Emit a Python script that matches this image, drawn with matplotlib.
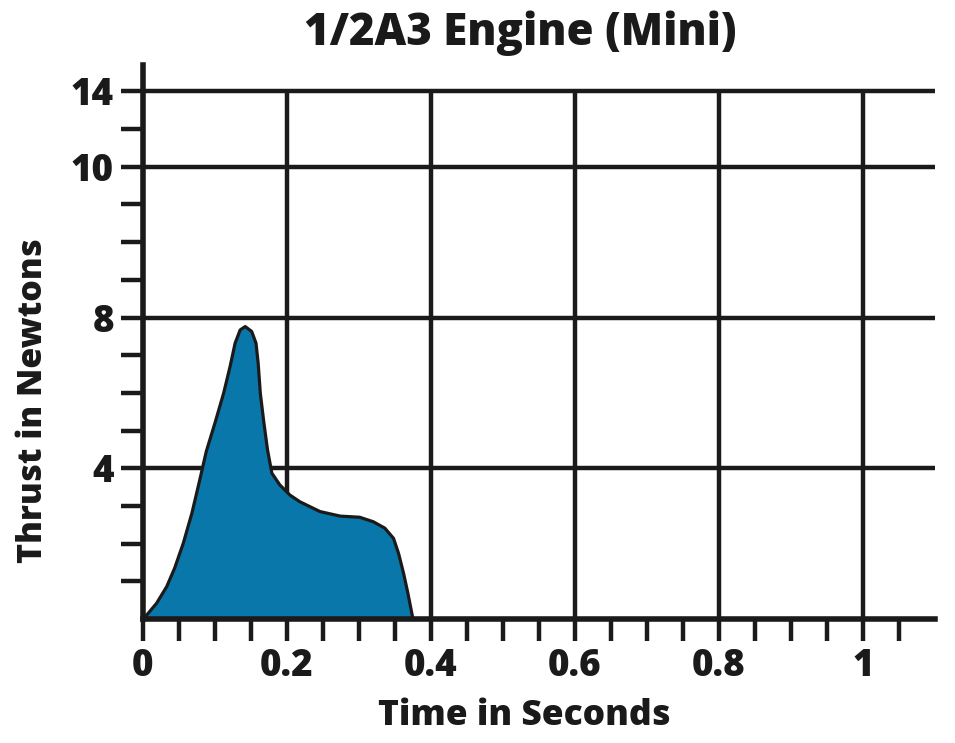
import matplotlib
matplotlib.use("Agg")
import matplotlib.pyplot as plt
import numpy as np

# thrust curve (seconds, position on the thrust axis)
time_s = [0.003, 0.005, 0.019, 0.033, 0.044, 0.056, 0.068, 0.079, 0.088, 0.100,
          0.112, 0.121, 0.128, 0.135, 0.142, 0.151, 0.157, 0.160, 0.163, 0.168,
          0.173, 0.179, 0.190, 0.204, 0.218, 0.246, 0.274, 0.301, 0.320, 0.336,
          0.348, 0.355, 0.362, 0.368, 0.375]
thrust = [0.0, 0.10, 0.42, 0.86, 1.35, 2.01, 2.81, 3.70, 4.45, 5.20,
          5.99, 6.70, 7.32, 7.67, 7.76, 7.63, 7.32, 6.79, 5.99, 5.20,
          4.49, 3.87, 3.56, 3.29, 3.11, 2.85, 2.73, 2.70, 2.58, 2.41,
          2.14, 1.74, 1.21, 0.68, 0.0]

x_ticks = [0, 0.2, 0.4, 0.6, 0.8, 1.0]
x_tick_labels = ["0", "0.2", "0.4", "0.6", "0.8", "1"]
x_minor = np.arange(0.05, 1.1, 0.05)

# the printed axis is not linear above 8: the "10" line sits where 12 would be
y_ticks = [4, 8, 12, 14]
y_tick_labels = ["4", "8", "10", "14"]
y_minor = [1, 2, 3, 5, 6, 7, 9, 10, 11, 13]

title = "1/2A3 Engine (Mini)"
xlabel = "Time in Seconds"
ylabel = "Thrust in Newtons"

plt.rcParams['font.family'] = ['Open Sans', 'DejaVu Sans']
plt.rcParams['font.weight'] = 800

ink = '#1a1a1a'
fill_col = '#0a77aa'

fig = plt.figure(figsize=(9.55, 7.43), dpi=100)
ax = fig.add_axes([0.1497, 0.1669, 0.979 - 0.1497, 0.9125 - 0.1669])

ax.set_xlim(0, 1.1)
ax.set_ylim(0, 14.7)

# grid
for xv in x_ticks[1:]:
    ax.plot([xv, xv], [0, 14], color=ink, lw=3.2, zorder=1, solid_capstyle='butt')
for yv in y_ticks:
    ax.plot([0, 1.1], [yv, yv], color=ink, lw=3.2, zorder=1, solid_capstyle='butt')

ax.fill_between(time_s, thrust, 0, color=fill_col, zorder=2, lw=0)
ax.plot(time_s, thrust, color=ink, lw=2.3, zorder=3, solid_joinstyle='round')

for s in ['top', 'right']:
    ax.spines[s].set_visible(False)
for s in ['left', 'bottom']:
    ax.spines[s].set_linewidth(4)
    ax.spines[s].set_color(ink)
    ax.spines[s].set_zorder(4)

ax.set_xticks(x_ticks)
ax.set_xticklabels(x_tick_labels)
ax.set_xticks(x_minor, minor=True)
ax.set_yticks(y_ticks)
ax.set_yticklabels(y_tick_labels)
ax.set_yticks(y_minor, minor=True)

ax.tick_params(axis='both', which='both', direction='out', color=ink,
               width=3.2, length=16, labelsize=26.5, labelcolor=ink)
ax.tick_params(axis='x', pad=5)
ax.tick_params(axis='y', pad=5)

ax.set_xlabel(xlabel, fontsize=25.5, fontweight=800, color=ink)
ax.set_ylabel(ylabel, fontsize=24.5, fontweight=800, color=ink)
ax.xaxis.set_label_coords(0.481, -0.142)
ax.yaxis.set_label_coords(-0.118, 0.395)
fig.text(0.545, 0.955, title, ha='center', va='center', fontsize=31.5,
         fontweight=800, color=ink)

fig.savefig("out.png", dpi=100)
